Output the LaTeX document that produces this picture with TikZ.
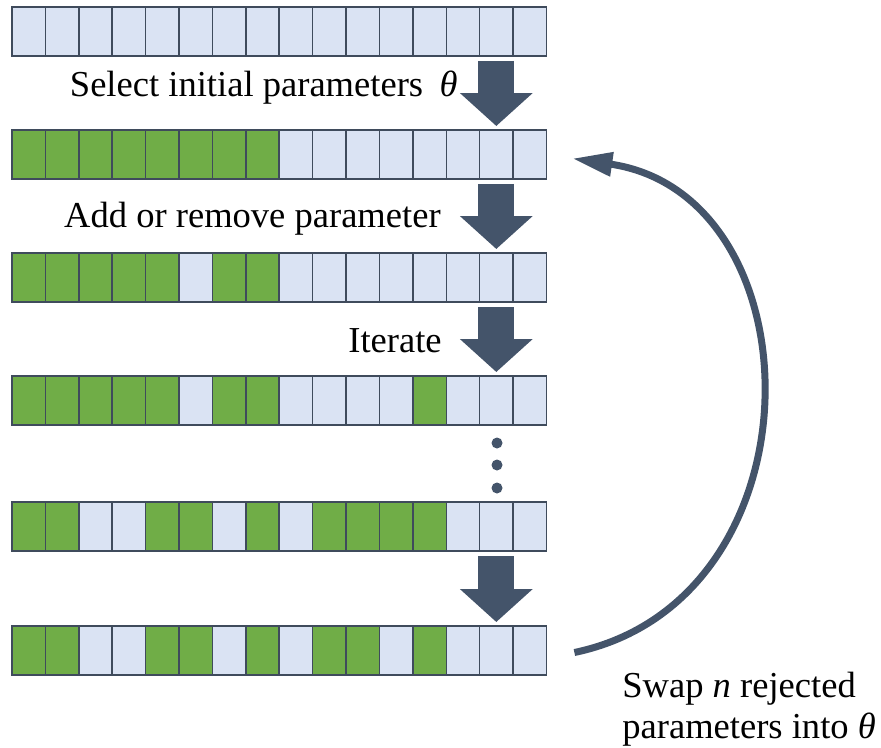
\documentclass[tikz,border=0pt]{standalone}
\usepackage{fontspec}
\setmainfont{Liberation Serif}
\usetikzlibrary{arrows.meta,calc}
\definecolor{pblue}{HTML}{DAE3F3}
\definecolor{pgreen}{HTML}{70AD47}
\definecolor{pline}{HTML}{3F4B5C}
\definecolor{pdark}{HTML}{44546A}
\tikzset{
  cell/.style={draw=pline, line width=0.8pt, minimum width=0.668cm, minimum height=0.98cm, inner sep=0pt, outer sep=0pt},
  cell0/.style={cell, fill=pblue},
  cell1/.style={cell, fill=pgreen},
  lbl/.style={inner sep=0pt, font=\fontsize{20.8}{23.3}\selectfont},
  bigarrow/.style={pdark, line width=0.72cm, -{Triangle[length=0.66cm, width=1.42cm]}},
  swaparrow/.style={pdark, line width=0.14cm, -{Triangle[length=0.8cm, width=0.46cm]}},
  dot/.style={circle, fill=pdark, minimum size=0.22cm, inner sep=0pt}
}

\begin{document}
\begin{tikzpicture}[x=0.02cm, y=-0.02cm]% ------ parameter rows ----------------
    \useasboundingbox (0,0) rectangle (881,747);
    \foreach \y/\pat [count=\r] in {
        7/{0,0,0,0,0,0,0,0,0,0,0,0,0,0,0,0},
        130/{1,1,1,1,1,1,1,1,0,0,0,0,0,0,0,0},
        253/{1,1,1,1,1,0,1,1,0,0,0,0,0,0,0,0},
        376/{1,1,1,1,1,0,1,1,0,0,0,0,1,0,0,0},
        502/{1,1,0,0,1,1,0,1,0,1,1,1,1,0,0,0},
        626/{1,1,0,0,1,1,0,1,0,1,1,0,1,0,0,0}}
      \foreach \g [count=\i] in \pat
        \node [cell\g] (r\r-\i) at ({12+33.4*(\i-0.5)},{\y+24.5}) {};
    % steps
    \foreach \a/\b in {1/2,2/3,3/4,5/6}
      \draw [bigarrow] ($(r\a-15.south)+(0,5)$) -- ($(r\b-15.north)+(0,-4)$);
    \foreach \k/\yy in {1/443,2/465,3/488}
      \node [dot] (dot\k) at (497,\yy) {};
    \node [lbl, anchor=base east] (select) at (458,96) {Select initial parameters\hspace{0.15cm} \textit{θ}};
    \node [lbl, anchor=base east] (addrem) at (441,227) {Add or remove parameter};
    \node [lbl, anchor=base east] (iter) at (442,352) {Iterate};
    % swap back
    \draw [swaparrow] ($(r6-16.east)+(28,2)$) .. controls (825,600) and (820,195) .. ($(r2-16.east)+(26,4)$);
    \node [lbl, anchor=north west, align=left] (swap) at (622,672) {Swap \textit{n} rejected\\parameters into \textit{θ}};
\end{tikzpicture}
\end{document}
